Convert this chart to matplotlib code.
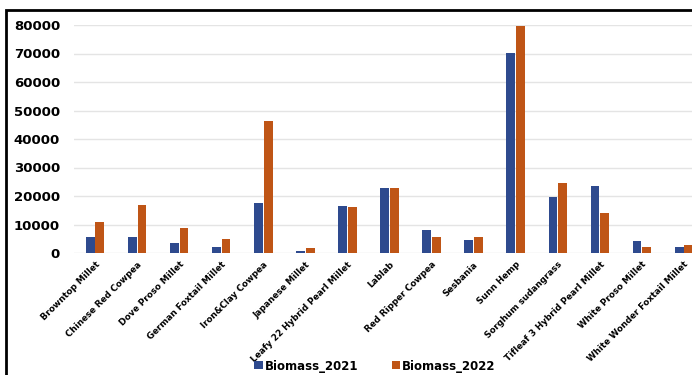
import numpy as np
import matplotlib.pyplot as plt
from matplotlib.patches import Rectangle

crops = ['Browntop Millet', 'Chinese Red Cowpea', 'Dove Proso Millet', 'German Foxtail Millet',
         'Iron&Clay Cowpea', 'Japanese Millet', 'Leafy 22 Hybrid Pearl Millet', 'Lablab',
         'Red Ripper Cowpea', 'Sesbania', 'Sunn Hemp', 'Sorghum sudangrass',
         'Tifleaf 3 Hybrid Pearl Millet', 'White Proso Millet', 'White Wonder Foxtail Millet']
biomass_2021 = [5600, 5600, 3500, 2200, 17500, 700, 16500, 22800, 8000, 4500, 70200, 19600, 23500, 4100, 2200]
biomass_2022 = [10900, 16800, 8800, 4900, 46300, 1800, 16100, 22700, 5600, 5600, 79700, 24500, 14000, 2200, 2800]

blue = '#2E4A8E'
orange = '#BF5516'

fig = plt.figure(figsize=(6.92, 3.75), dpi=100)
ax = fig.add_axes([74/692, (375-253)/375, 631/692, 228/375])

x = np.arange(len(crops))
w = 0.21
ax.bar(x - w/2 - 0.01, biomass_2021, w, color=blue, label='Biomass_2021', zorder=3)
ax.bar(x + w/2 + 0.01, biomass_2022, w, color=orange, label='Biomass_2022', zorder=3)

ax.set_xlim(-0.5, len(crops) - 0.5)
ax.set_ylim(0, 80000)
ax.set_yticks(np.arange(0, 80001, 10000))
ax.grid(axis='y', color='#E4E4E4', linewidth=1, zorder=0)
for s in ax.spines.values():
    s.set_visible(False)
ax.tick_params(length=0)
ax.tick_params(axis='y', labelsize=9.5, pad=10)
for t in ax.get_yticklabels():
    t.set_fontweight('bold')
ax.set_xticks(x)
ax.set_xticklabels(crops, rotation=45, ha='right', rotation_mode='anchor',
                   fontsize=6.3, fontweight='bold')
ax.tick_params(axis='x', pad=5)

leg = fig.legend(loc='lower center', bbox_to_anchor=(0.542, -0.022), ncol=2, frameon=False,
                 prop={'size': 8.5, 'weight': 'bold'}, handlelength=0.6, handleheight=0.6,
                 handletextpad=0.3, columnspacing=2.8)
for h in leg.legend_handles:
    h.set_width(6)
    h.set_height(6)

# black frame around the figure (right/bottom cut off)
fig.add_artist(Rectangle((6/692, -0.1), 1.2, (375-10)/375 + 0.1, transform=fig.transFigure,
                         fill=False, edgecolor='black', linewidth=2))

fig.savefig('out.png', dpi=100)
